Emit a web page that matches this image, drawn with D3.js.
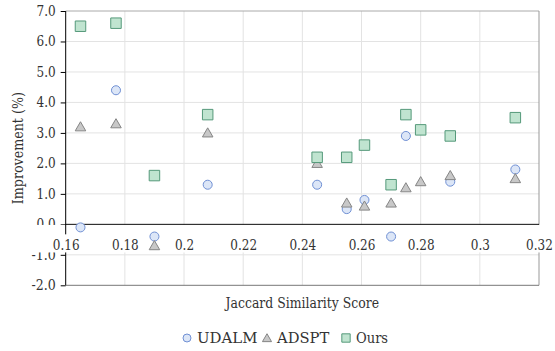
<!DOCTYPE html>
<html>
<head>
<meta charset="utf-8">
<script src="https://cdn.jsdelivr.net/npm/d3@7/dist/d3.min.js"></script>
<style>
  html, body { margin: 0; padding: 0; background: #fff; }
  svg { display: block; }
</style>
</head>
<body>
<svg id="chart" width="555" height="351"></svg>
<script>
// ---- data ----
const xValues   = [0.165, 0.177, 0.19, 0.208, 0.245, 0.255, 0.261, 0.27, 0.275, 0.28, 0.29, 0.312];
const udalm     = [-0.1, 4.4, -0.4, 1.3, 1.3, 0.5, 0.8, -0.4, 2.9, null, 1.4, 1.8];
const adspt     = [3.2, 3.3, -0.7, 3.0, 2.0, 0.7, 0.6, 0.7, 1.2, 1.4, 1.6, 1.5];
const ours      = [6.5, 6.6, 1.6, 3.6, 2.2, 2.2, 2.6, 1.3, 3.6, 3.1, 2.9, 3.5];
const seriesNames = ["UDALM", "ADSPT", "Ours"];
const xTicks    = [0.16, 0.18, 0.2, 0.22, 0.24, 0.26, 0.28, 0.3, 0.32];
const xTickLabels = ["0.16", "0.18", "0.2", "0.22", "0.24", "0.26", "0.28", "0.3", "0.32"];
const yTicks    = [-2, -1, 0, 1, 2, 3, 4, 5, 6, 7];
const yTickLabels = ["-2.0", "-1.0", "0.0", "1.0", "2.0", "3.0", "4.0", "5.0", "6.0", "7.0"];
const xTitle = "Jaccard Similarity Score";
const yTitle = "Improvement (%)";

const FONT = "'DejaVu Serif', serif";
const TXT = "#333";

// Times-like advance widths (per 1000 em) used to size the serif text
const TW = { "0":500,"1":500,"2":500,"3":500,"4":500,"5":500,"6":500,"7":500,"8":500,"9":500,
  ".":250,"-":333," ":250,"(":333,")":333,"%":833,
  J:389,S:556,I:333,U:722,D:722,A:722,L:611,M:889,P:556,T:611,O:722,
  a:444,c:444,r:333,d:500,i:278,m:778,l:278,t:278,y:500,o:500,e:444,p:500,v:500,n:500,u:500,s:389 };
function fit(sel, timesSize) {
  sel.each(function () {
    const s = d3.select(this).text();
    let w = 0;
    for (const ch of s) w += (TW[ch] || 500);
    d3.select(this).attr("textLength", (w * timesSize / 1000).toFixed(2))
      .attr("lengthAdjust", "spacingAndGlyphs");
  });
}

// ---- layout ----
const L = 65.7, R = 539, T = 11, B = 285.3;
const svg = d3.select("#chart");
const x = d3.scaleLinear().domain([0.16, 0.32]).range([L, R]);
const y = d3.scaleLinear().domain([-2, 7]).range([B, T]);

const styles = {
  UDALM: { fill: "#dce6f7", stroke: "#7090d4" },
  ADSPT: { fill: "#c8c8c8", stroke: "#858585" },
  Ours:  { fill: "#c0e4d0", stroke: "#55997a" }
};

// gridlines
const grid = svg.append("g");
grid.selectAll("line.vx").data(xTicks.slice(1, -1)).join("line")
  .attr("x1", d => x(d)).attr("x2", d => x(d)).attr("y1", T).attr("y2", B)
  .attr("stroke", "#e3e3e3").attr("stroke-width", 1);
grid.selectAll("line.hy").data(yTicks.filter(v => v !== 0 && v !== 7 && v !== -2)).join("line")
  .attr("x1", L).attr("x2", R).attr("y1", d => y(d)).attr("y2", d => y(d))
  .attr("stroke", "#e3e3e3").attr("stroke-width", 1);

// border
svg.append("line").attr("x1", L).attr("x2", R).attr("y1", T).attr("y2", T).attr("stroke", "#aaa");
svg.append("line").attr("x1", R).attr("x2", R).attr("y1", T).attr("y2", B).attr("stroke", "#999");
svg.append("line").attr("x1", L).attr("x2", R).attr("y1", B).attr("y2", B).attr("stroke", "#777");

// y axis
const yAxis = d3.axisLeft(y).tickValues(yTicks)
  .tickFormat((d, i) => yTickLabels[i]).tickSize(5).tickPadding(5);
const gy = svg.append("g").attr("transform", `translate(${L},0)`).call(yAxis);
gy.select(".domain").attr("stroke", "#000").attr("d", `M0,${T}V${B}`);
gy.selectAll(".tick line").attr("stroke", "#000");
gy.selectAll(".tick text").attr("font-size", 14).attr("fill", TXT).style("font-family", FONT)
  .call(fit, 15.3);

// x axis line at zero
svg.append("line").attr("x1", L).attr("x2", R).attr("y1", y(0)).attr("y2", y(0))
  .attr("stroke", "#000").attr("stroke-width", 1);

// white label band
svg.append("rect").attr("x", 30).attr("y", y(0) + 0.6).attr("width", 520).attr("height", 27.5)
  .attr("fill", "#fff");
svg.append("line").attr("x1", L).attr("x2", L).attr("y1", y(0)).attr("y2", y(0) + 10)
  .attr("stroke", "#000");

// x axis labels
const xAxis = d3.axisBottom(x).tickValues(xTicks)
  .tickFormat((d, i) => xTickLabels[i]).tickSize(0).tickPadding(16);
const gx = svg.append("g").attr("transform", `translate(0,${y(0)})`).call(xAxis);
gx.select(".domain").remove();
gx.selectAll(".tick text").attr("font-size", 14).attr("fill", TXT).style("font-family", FONT)
  .call(fit, 15.3);

// titles
svg.append("text").attr("x", (L + R) / 2).attr("y", 308).attr("text-anchor", "middle")
  .style("font-family", FONT).attr("fill", TXT).attr("font-size", 15).text(xTitle)
  .call(fit, 15.7);
svg.append("text").attr("transform", `translate(23,${(T + B) / 2}) rotate(-90)`)
  .style("font-family", FONT).attr("fill", TXT)
  .attr("text-anchor", "middle").attr("font-size", 15).text(yTitle)
  .call(fit, 15.7);

// symbols
const symCircle = d3.symbol().type(d3.symbolCircle).size(64);
const symTri = d3.symbol().type(d3.symbolTriangle).size(48);
const symSq = d3.symbol().type(d3.symbolSquare).size(110);
const symFor = { UDALM: symCircle, ADSPT: symTri, Ours: symSq };
const seriesData = { UDALM: udalm, ADSPT: adspt, Ours: ours };

seriesNames.forEach(name => {
  const pts = xValues.map((xv, i) => ({ x: xv, y: seriesData[name][i] })).filter(p => p.y !== null);
  svg.append("g").selectAll("path").data(pts).join("path")
    .attr("d", symFor[name]())
    .attr("transform", d => `translate(${x(d.x)},${y(d.y) + (name === "ADSPT" ? 1 : 0)})`)
    .attr("fill", styles[name].fill).attr("stroke", styles[name].stroke).attr("stroke-width", 1);
});

// legend
const legendItems = [
  { name: "UDALM", sx: 187, tx: 197 },
  { name: "ADSPT", sx: 267, tx: 277 },
  { name: "Ours",  sx: 346, tx: 356 }
];
const ly = 338;
const lg = svg.append("g");
legendItems.forEach(it => {
  const s = it.name === "UDALM" ? d3.symbol().type(d3.symbolCircle).size(50)
          : it.name === "ADSPT" ? d3.symbol().type(d3.symbolTriangle).size(36)
          : d3.symbol().type(d3.symbolSquare).size(70);
  lg.append("path").attr("d", s()).attr("transform", `translate(${it.sx},${ly + (it.name === "ADSPT" ? 1 : 0)})`)
    .attr("fill", styles[it.name].fill).attr("stroke", styles[it.name].stroke);
  lg.append("text").attr("x", it.tx).attr("y", ly).attr("dy", "0.35em")
    .style("font-family", FONT).attr("fill", TXT).attr("font-size", 15).text(it.name)
    .call(fit, 16.5);
});
</script>
</body>
</html>
